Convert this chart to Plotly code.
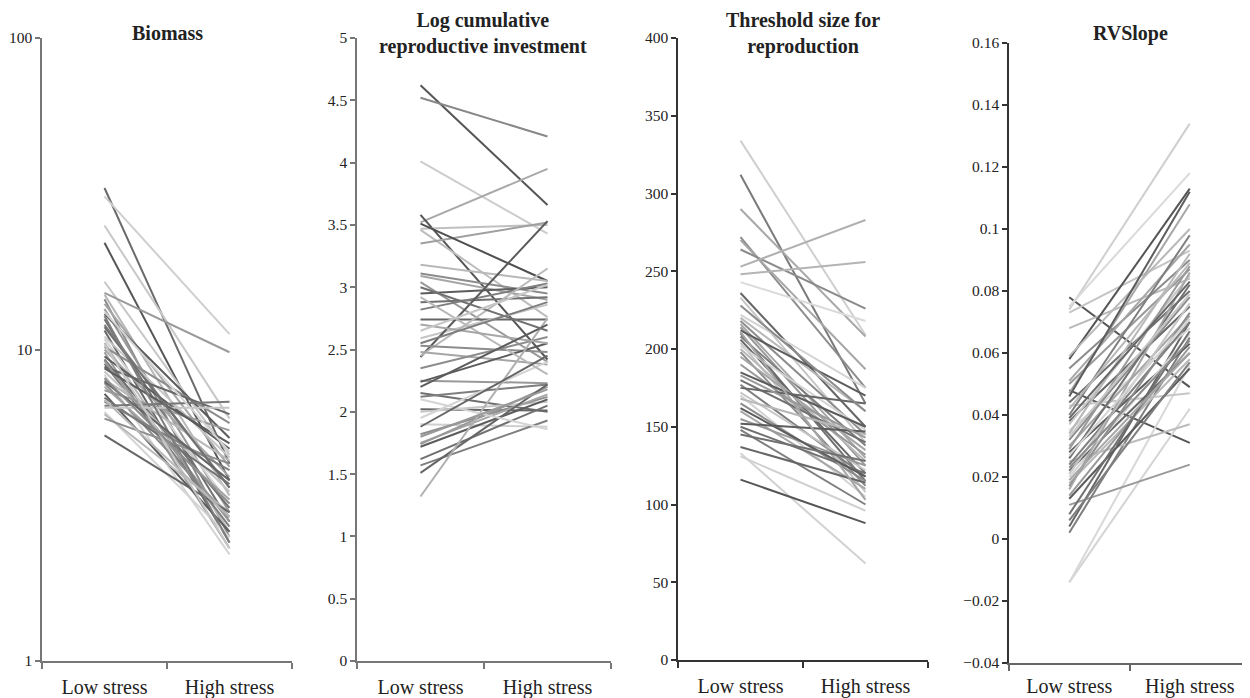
import plotly.graph_objects as go

categories = ["Low stress", "High stress"]

titles = ["<b>Biomass</b>",
          "<b>Log cumulative<br>reproductive investment</b>",
          "<b>Threshold size for<br>reproduction</b>",
          "<b>RVSlope</b>"]

biomass_low = [33, 31, 25, 22, 16.5, 15.2, 15, 14.5, 14, 13.5,
               13, 12.5, 12, 11.5, 11, 10.8, 10.5, 10.2, 10, 9.8,
               9.5, 9.3, 9, 8.8, 8.5, 8.3, 8, 7.8, 7.6, 7.4,
               7.2, 7, 6.8, 6.6, 6.5, 6.3, 6.2, 6, 5.3, 9.2,
               8.7, 11.8, 12.8, 7.9, 10.4, 13.2, 6.9, 8.1]
biomass_high = [4.3, 11.2, 6.0, 3.8, 4.6, 9.8, 3.4, 2.5, 4.2, 3.0,
                5.2, 2.8, 3.6, 2.4, 4.5, 3.2, 2.6, 5.8, 3.9, 2.3,
                4.8, 3.1, 2.7, 6.2, 3.5, 2.2, 4.4, 2.9, 3.3, 5.5,
                2.6, 3.7, 4.1, 6.8, 6.5, 2.5, 3.0, 4.3, 3.0, 2.8,
                5.0, 3.6, 2.4, 3.8, 2.3, 4.7, 2.9, 3.2]

reprod_low = [4.62, 4.52, 4.01, 3.52, 3.58, 3.47, 3.46, 3.35, 3.51, 3.18,
              3.11, 3.09, 3.04, 2.95, 2.88, 2.82, 2.74, 2.59, 2.44, 2.45,
              2.53, 2.48, 2.25, 2.24, 2.15, 2.12, 2.02, 2.00, 1.95, 1.90,
              1.82, 1.75, 1.74, 1.72, 1.62, 1.57, 1.51, 1.32, 2.10, 2.92,
              2.35, 2.70, 1.80, 2.20, 3.00, 2.55, 1.88, 2.65]
reprod_high = [3.66, 4.21, 3.43, 3.95, 2.42, 3.50, 2.76, 3.52, 3.05, 3.05,
               2.95, 2.90, 2.40, 3.00, 2.92, 3.03, 2.74, 2.86, 3.53, 3.15,
               2.48, 2.38, 2.23, 2.55, 2.00, 2.22, 2.01, 2.08, 2.40, 1.88,
               2.12, 2.14, 2.20, 2.10, 2.05, 1.93, 2.22, 2.75, 1.86, 2.30,
               2.60, 2.55, 2.18, 2.70, 2.65, 2.88, 2.45, 3.02]

thresh_low = [334, 312, 290, 272, 270, 264, 253, 248, 243, 236,
              233, 222, 220, 218, 216, 214, 212, 210, 208, 206,
              204, 202, 200, 198, 195, 190, 185, 180, 177, 175,
              172, 170, 168, 165, 160, 155, 152, 150, 148, 137,
              133, 131, 116, 228, 211, 183, 162, 145]
thresh_high = [209, 165, 208, 175, 187, 226, 283, 256, 218, 150,
               140, 175, 160, 145, 130, 125, 170, 115, 138, 120,
               108, 148, 128, 112, 135, 132, 150, 140, 118, 165,
               122, 105, 145, 115, 110, 125, 147, 120, 100, 114,
               62, 96, 88, 160, 103, 143, 118, 128]

rv_low = [0.078, 0.048, 0.074, 0.075, 0.073, 0.068, 0.058, 0.047, -0.014, -0.014,
          0.011, 0.002, 0.004, 0.043, 0.025, 0.059, 0.055, 0.051, 0.050, 0.046,
          0.044, 0.040, 0.038, 0.037, 0.035, 0.034, 0.032, 0.030, 0.029, 0.028,
          0.026, 0.024, 0.022, 0.021, 0.020, 0.018, 0.017, 0.016, 0.014, 0.013,
          0.008, 0.006, 0.039, 0.033, 0.027, 0.042, 0.023, 0.019]
rv_high = [0.049, 0.031, 0.134, 0.118, 0.093, 0.084, 0.113, 0.108, 0.042, 0.056,
           0.024, 0.065, 0.070, 0.047, 0.037, 0.100, 0.090, 0.095, 0.087, 0.112,
           0.080, 0.098, 0.075, 0.085, 0.068, 0.092, 0.078, 0.072, 0.088, 0.063,
           0.082, 0.070, 0.060, 0.076, 0.066, 0.058, 0.073, 0.086, 0.062, 0.055,
           0.067, 0.057, 0.083, 0.079, 0.071, 0.089, 0.064, 0.060]

# ---- styling ----
palette = ["#5c5c5c", "#8c8c8c", "#c6c6c6", "#707070", "#a6a6a6",
           "#d4d4d4", "#7e7e7e", "#999999", "#b8b8b8", "#666666"]
overrides = [
    {0: "#6a6a6a", 1: "#cfcfcf", 2: "#c8c8c8", 3: "#555555", 5: "#9a9a9a", 33: "#777777", 38: "#666666"},
    {0: "#555555", 1: "#888888", 2: "#cccccc", 3: "#a8a8a8", 4: "#555555", 5: "#c0c0c0", 6: "#bdbdbd", 7: "#a0a0a0", 8: "#4f4f4f", 18: "#5a5a5a", 37: "#b0b0b0", 29: "#cfcfcf"},
    {0: "#cfcfcf", 1: "#7a7a7a", 2: "#a8a8a8", 5: "#8a8a8a", 6: "#b0b0b0", 7: "#b4b4b4", 8: "#dadada", 40: "#d2d2d2", 41: "#d0d0d0", 42: "#555555"},
    {0: "#555555", 1: "#555555", 2: "#cfcfcf", 3: "#dadada", 4: "#c4c4c4", 6: "#555555", 8: "#d4d4d4", 9: "#d8d8d8", 10: "#999999", 14: "#bdbdbd"},
]

FONT = "Liberation Serif, Times New Roman, serif"
panels = [
    dict(low=biomass_low, high=biomass_high, xd=[42, 292], yd=[661, 38], ytype="log",
         yrange=[0, 2], tickvals=[1, 10, 100], line="#777777", xline="#777777", tcx=167, lablen=7),
    dict(low=reprod_low, high=reprod_high, xd=[357, 611], yd=[661, 38], ytype="linear",
         yrange=[0, 5], dtick=0.5, line="#777777", xline="#777777", tcx=483, lablen=7),
    dict(low=thresh_low, high=thresh_high, xd=[678, 928], yd=[660, 38], ytype="linear",
         yrange=[0, 400], dtick=50, line="#333333", xline="#333333", tcx=803, lablen=7),
    dict(low=rv_low, high=rv_high, xd=[1009, 1250], yd=[663, 43], ytype="linear",
         yrange=[-0.04, 0.16], dtick=0.02, line="#333333", xline="#666666", tcx=1130, lablen=4),
]

# page body has an 8px margin: work in window pixels, convert to figure fractions
OX, OY = 8, 8
W, H = 1250 - OX, 698 - OY


def fx(px):
    return min(max((px - OX) / W, 0.0), 1.0)


def fy(py):
    return min(max(1 - (py - OY) / H, 0.0), 1.0)


fig = go.Figure()
layout = dict(width=W, height=H, margin=dict(l=0, r=0, t=0, b=0),
              paper_bgcolor="white", plot_bgcolor="white", showlegend=False,
              font=dict(family=FONT, color="#222222"))
annotations = []
for k, p in enumerate(panels):
    sfx = "" if k == 0 else str(k + 1)
    n = len(p["low"])
    for i in range(n):
        col = overrides[k].get(i, palette[(i * 3 + k) % len(palette)])
        fig.add_trace(go.Scatter(x=[0.5, 1.5], y=[p["low"][i], p["high"][i]],
                                 mode="lines", line=dict(color=col, width=2),
                                 xaxis="x" + sfx, yaxis="y" + sfx, hoverinfo="skip"))
    xa = dict(domain=[fx(p["xd"][0]), fx(p["xd"][1])], range=[0, 2],
              showline=True, linecolor=p["xline"], linewidth=1.5, showgrid=False,
              zeroline=False, tickmode="array", tickvals=[0.5, 1.5], ticktext=categories,
              ticks="outside", ticklen=p["lablen"], tickcolor="rgba(0,0,0,0)",
              tickfont=dict(size=20, family=FONT, color="#222222"),
              minor=dict(tickmode="array", tickvals=[0, 1, 2], ticks="outside",
                         ticklen=6, tickcolor=p["xline"], tickwidth=1.5),
              anchor="y" + sfx, fixedrange=True, automargin=False)
    ya = dict(domain=[fy(p["yd"][0]), fy(p["yd"][1])], type=p["ytype"],
              range=p["yrange"], showline=True, linecolor=p["line"], linewidth=1.5,
              showgrid=False, zeroline=False, ticks="outside", ticklen=5,
              tickcolor=p["line"], tickwidth=1.5,
              tickfont=dict(size=15.5, family=FONT, color="#222222"),
              anchor="x" + sfx, fixedrange=True, automargin=False)
    if p["ytype"] == "log":
        ya.update(tickmode="array", tickvals=p["tickvals"], ticktext=[str(v) for v in p["tickvals"]])
    else:
        ya.update(tick0=p["yrange"][0], dtick=p["dtick"])
    layout["xaxis" + sfx] = xa
    layout["yaxis" + sfx] = ya
    annotations.append(dict(text=titles[k], x=fx(p["tcx"]), y=fy(33), xref="paper", yref="paper",
                            xanchor="center", yanchor="middle", showarrow=False,
                            font=dict(size=20, family=FONT, color="#222222")))
layout["annotations"] = annotations
fig.update_layout(**layout)
fig.write_html("out.html")
